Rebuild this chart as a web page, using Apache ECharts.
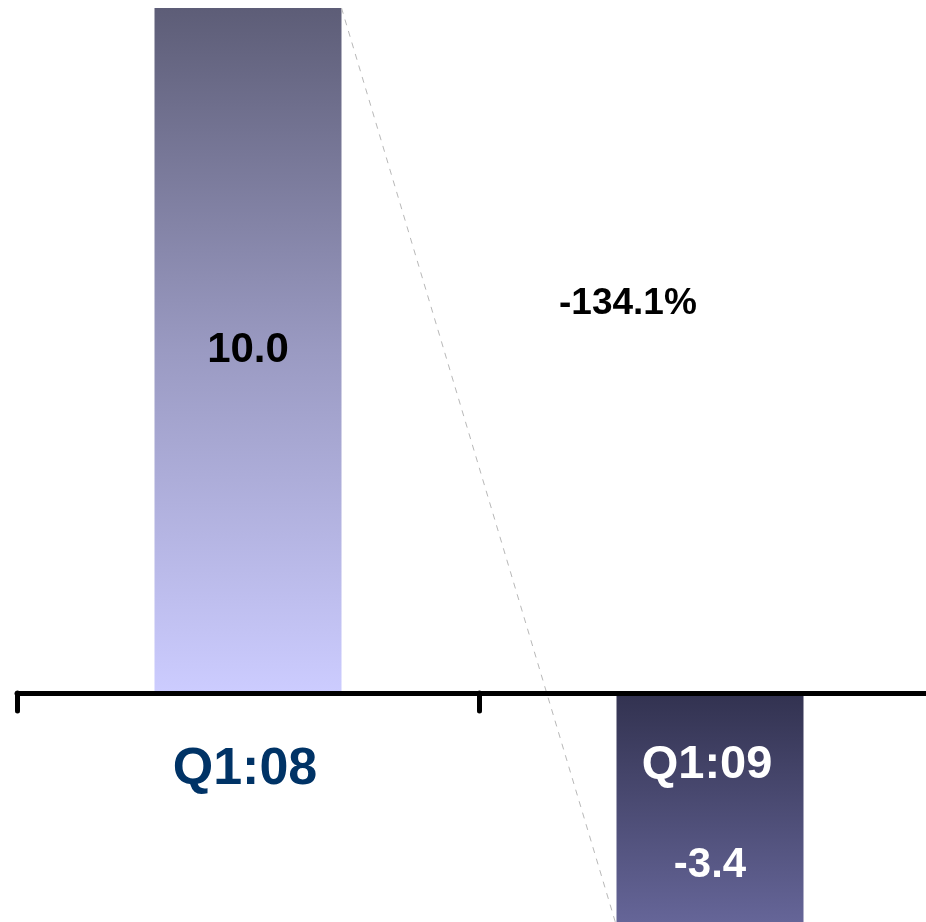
<!DOCTYPE html>
<html>
<head>
<meta charset="utf-8">
<script src="https://cdn.jsdelivr.net/npm/echarts@6/dist/echarts.min.js"></script>
<style>html,body{margin:0;padding:0;background:#fff;}#c{width:926px;height:922px;}</style>
</head>
<body>
<div id="c"></div>
<script>
var categories = ['Q1:08', 'Q1:09'];
var values = [10.0, -3.4];
var valueLabels = ['10.0', '-3.4'];
var changeLabel = '-134.1%';

var BAR_W = 187;
var chart = echarts.init(document.getElementById('c'), null, {renderer: 'canvas'});
var font = '"Liberation Sans", Arial, sans-serif';

chart.setOption({
  animation: false,
  backgroundColor: '#ffffff',
  grid: {left: 17, width: 924, top: 8, height: 918, containLabel: false, outerBoundsMode: 'none'},
  xAxis: {
    type: 'category',
    data: categories,
    z: 10,
    axisLine: {onZero: true, lineStyle: {color: '#000', width: 5}},
    axisTick: {show: true, length: 18, lineStyle: {color: '#000', width: 5, cap: 'round'}},
    axisLabel: {
      show: true,
      interval: 0,
      margin: -182,
      formatter: function (v, i) { return i === 0 ? '{a|' + v + '}' : '{b|' + v + '}'; },
      rich: {
        a: {fontFamily: font, fontWeight: 'bold', fontSize: 52, lineHeight: 52, color: '#003366', padding: [0, 6, 0, 0]},
        b: {fontFamily: font, fontWeight: 'bold', fontSize: 47, lineHeight: 42, color: '#ffffff', padding: [0, 6, 0, 0]}
      }
    }
  },
  yAxis: {
    type: 'value', min: -3.4, max: 10, show: false,
    splitLine: {show: false}
  },
  series: [
    {
      type: 'bar',
      barWidth: BAR_W,
      z: 2,
      data: [
        {
          value: values[0],
          itemStyle: {color: new echarts.graphic.LinearGradient(0, 0, 0, 1, [
            {offset: 0, color: '#5d5d77'}, {offset: 0.5, color: '#9a9ac2'}, {offset: 1, color: '#ccccff'}
          ])},
          label: {show: true, position: 'inside', formatter: valueLabels[0], color: '#000',
            fontFamily: font, fontWeight: 'bold', fontSize: 42, offset: [0, 0]}
        },
        {
          value: values[1],
          itemStyle: {color: new echarts.graphic.LinearGradient(0, 0, 0, 1, [
            {offset: 0, color: '#323250'}, {offset: 1, color: '#666699'}
          ])},
          label: {show: true, position: 'inside', formatter: valueLabels[1], color: '#fff',
            fontFamily: font, fontWeight: 'bold', fontSize: 42, offset: [0, 56]}
        }
      ]
    },
    {
      type: 'custom',
      z: 5,
      data: [0],
      renderItem: function (params, api) {
        var p1 = api.coord([0, values[0]]);
        var p2 = api.coord([1, values[1]]);
        return {
          type: 'line',
          shape: {x1: p1[0] + BAR_W / 2, y1: p1[1], x2: p2[0] - BAR_W / 2, y2: p2[1]},
          style: {stroke: '#b8b8b8', lineWidth: 1, lineDash: [6, 6]}
        };
      }
    }
  ],
  graphic: [
    {type: 'text', left: 559, top: 285, z: 20,
     style: {text: changeLabel, fill: '#000', font: 'bold 37px ' + font}}
  ]
});
</script>
</body>
</html>
